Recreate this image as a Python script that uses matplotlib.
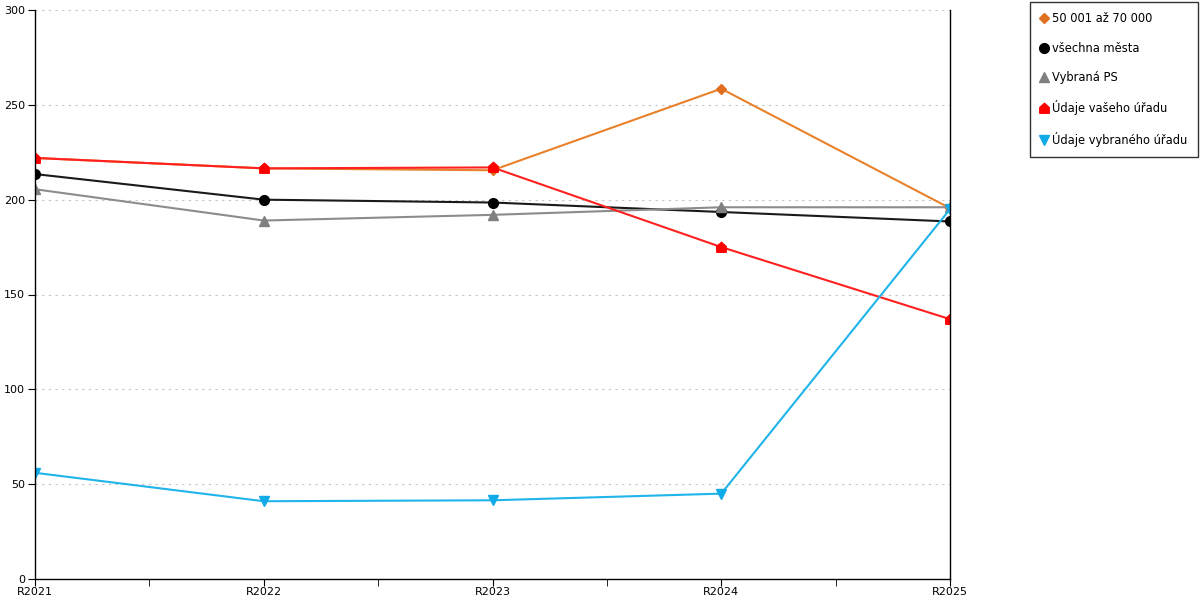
import matplotlib
matplotlib.use("Agg")
import matplotlib.pyplot as plt
from matplotlib.path import Path

plt.rcParams['font.family'] = ['DejaVu Sans']

years = ["R2021", "R2022", "R2023", "R2024", "R2025"]

mesta_50_70 = [222, 216.5, 215.5, 258.5, 195.5]
vsechna_mesta = [213.5, 200, 198.5, 193.5, 188.5]
vybrana_ps = [205.5, 189, 192, 196, 196]
vas_urad = [222, 216.5, 217, 175, 137]
vybrany_urad = [56, 41, 41.5, 45, 195]

# house shaped marker (square with a roof)
house = Path([(-1, -1), (1, -1), (1, 0.2), (0, 1.1), (-1, 0.2), (-1, -1)],
             [Path.MOVETO, Path.LINETO, Path.LINETO, Path.LINETO, Path.LINETO, Path.CLOSEPOLY])

series = [
    ("50 001 až 70 000", mesta_50_70, "#e8812a", "D", 5, "#e07020"),
    ("všechna města", vsechna_mesta, "#1a1a1a", "o", 7, "#000000"),
    ("Vybraná PS", vybrana_ps, "#8c8c8c", "^", 7, "#808080"),
    ("Údaje vašeho úřadu", vas_urad, "#ff2020", house, 7.5, "#ff0000"),
    ("Údaje vybraného úřadu", vybrany_urad, "#1fb4ea", "v", 7.5, "#10aae8"),
]

fig = plt.figure(figsize=(12, 6), dpi=100)
ax = fig.add_axes([35 / 1200, 21 / 600, 915 / 1200, 569 / 600])

x = list(range(len(years)))
handles = []
for label, vals, lc, mk, ms, mc in series:
    h, = ax.plot(x, vals, color=lc, lw=1.5, marker=mk, markersize=ms,
                 markerfacecolor=mc, markeredgecolor=mc, label=label)
    handles.append(h)

ax.set_xlim(0, 4)
ax.set_ylim(0, 300)
ax.set_yticks(range(0, 301, 50))
ax.set_xticks(x)
ax.set_xticklabels(years)
ax.set_xticks([0.5, 1.5, 2.5, 3.5], minor=True)
ax.tick_params(axis='both', which='both', labelsize=8, direction='out', color='black')
ax.tick_params(axis='x', which='major', length=5, pad=1)
ax.tick_params(axis='x', which='minor', length=5)
ax.tick_params(axis='y', length=5, pad=2)

for yv in range(50, 301, 50):
    ax.axhline(yv, color='#c4c4c4', lw=0.8, ls=(0, (2, 4)), zorder=0)

ax.spines['top'].set_visible(False)
for s in ['left', 'right', 'bottom']:
    ax.spines[s].set_color('black')
    ax.spines[s].set_linewidth(1)

leg = fig.legend(handles=handles, loc='upper right', bbox_to_anchor=(1198 / 1200, 1 - 2 / 600),
                 frameon=True, fancybox=False, edgecolor='black', fontsize=8.3,
                 handlelength=0.6, handletextpad=0.45, labelspacing=1.42,
                 borderpad=0.9, borderaxespad=0)
leg.get_frame().set_linewidth(1)
for line in leg.get_lines():
    line.set_linestyle('none')

fig.savefig("out.png", dpi=100)
